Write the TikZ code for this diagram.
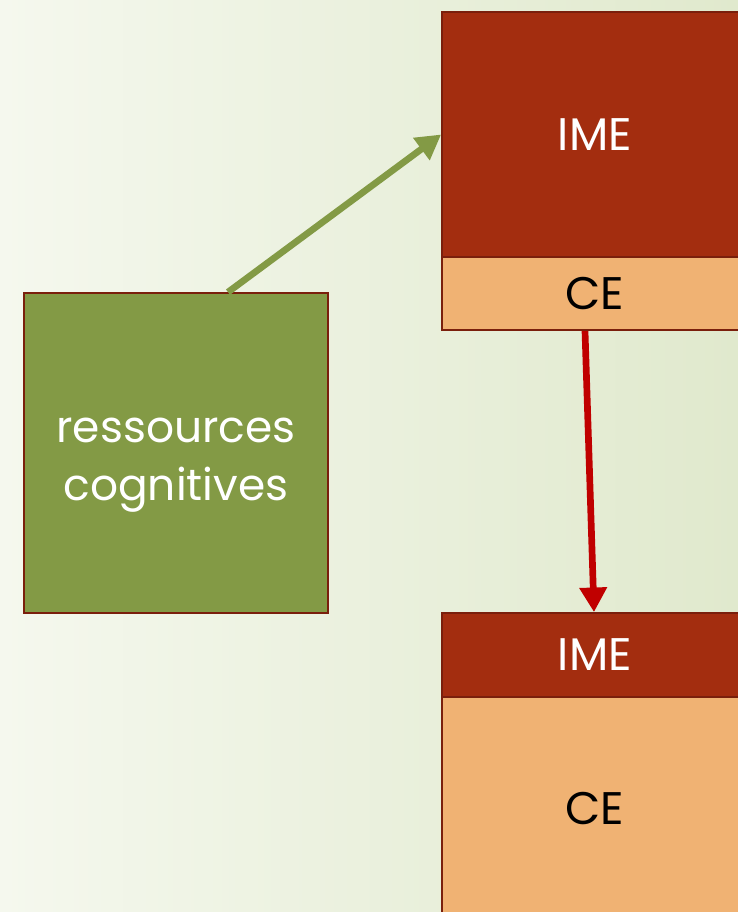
\documentclass[tikz,border=0pt]{standalone}
\usepackage{fontspec}
\setmainfont{Poppins}
\usetikzlibrary{arrows.meta}

\definecolor{bgleft}{HTML}{F5F8EE}
\definecolor{bgright}{HTML}{E0E9CD}
\definecolor{olive}{HTML}{839A45}
\definecolor{rust}{HTML}{A32D0F}
\definecolor{sand}{HTML}{F0B273}
\definecolor{edge}{HTML}{7A1F0C}
\definecolor{arrowred}{HTML}{C00000}

\tikzset{
  block/.style={draw=edge, line width=1pt, inner sep=0pt, align=center,
    minimum width=6.12cm, font=\fontsize{26}{33}\selectfont},
  link/.style={line width=3.8pt, -{Triangle[length=14pt, width=15pt]}}
}

\begin{document}
\begin{tikzpicture}
        % Background
        \useasboundingbox (0, 0) rectangle (14.76, -18.24);
        \shade[left color=bgleft, right color=bgright] (0, 0) rectangle (14.76, -18.24);
        
        % Resources box
        \node[block, fill=olive, minimum width=6.08cm, minimum height=6.4cm,
          label={[text=white, align=center, yshift=-0.24cm,
            font=\fontsize{25}{33}\selectfont]center:ressources\\cognitives}]
          (res) at (3.52, -9.06) {};
        
        % Upper pair
        \node[block, fill=rust, text=white, minimum height=4.9cm] (ime1) at (11.9, -2.69) {IME};
        \node[block, fill=sand, minimum height=1.46cm] (ce1) at (11.9, -5.87) {CE};
        
        % Lower pair
        \node[block, fill=rust, text=white, minimum height=1.68cm] (ime2) at (11.9, -13.1) {IME};
        \node[block, fill=sand, minimum height=4.44cm] (ce2) at (11.9, -16.16) {CE};
        
        % Arrows
        \draw[link, olive] ([xshift=1.04cm]res.north) -- (ime1.west);
        \draw[link, arrowred] ([xshift=-0.2cm]ce1.south) -- ([xshift=-0.02cm]ime2.north);
    \end{tikzpicture}
\end{document}
